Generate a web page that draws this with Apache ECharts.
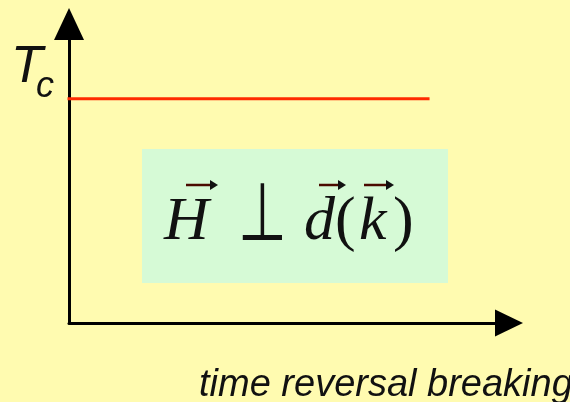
<!DOCTYPE html>
<html>
<head>
<meta charset="utf-8">
<script src="https://cdn.jsdelivr.net/npm/echarts@6/dist/echarts.min.js"></script>
<style>
  html, body { margin: 0; padding: 0; background: #FFFBB0; }
  #chart { width: 570px; height: 402px; }
</style>
</head>
<body>
<div id="chart"></div>
<script>
// Phase diagram sketch: critical temperature Tc versus time reversal breaking
const xRange = [0, 1];
const yRange = [0, 1];
const tcLevel = 0.75;              // Tc stays flat
const breakingValues = [0, 0.816]; // extent of the Tc line along the x axis
const xAxisTitle = 'time reversal breaking';
const tcLabel = ['T', 'c'];

const chart = echarts.init(document.getElementById('chart'), null, { renderer: 'canvas' });

const serif = "'Liberation Serif', 'DejaVu Serif', serif";
const sans = "'Liberation Sans', Arial, sans-serif";
const ink = '#111';

// small vector arrow drawn above a letter
function vecArrow(x1, x2, y) {
  return {
    type: 'group', z: 10,
    children: [
      { type: 'line', z: 10, shape: { x1: x1, y1: y, x2: x2 - 2, y2: y },
        style: { stroke: '#4a0a00', lineWidth: 2.5 } },
      { type: 'polygon', z: 10, shape: { points: [[x2 + 2, y], [x2 - 6, y - 5], [x2 - 6, y + 5]] },
        style: { fill: '#111' } }
    ]
  };
}

function formulaText(str, x, italic, font, size) {
  return {
    type: 'text', x: x, y: 254, z: 10,
    style: {
      text: str, fill: ink, fontSize: size || 62, fontFamily: font || serif,
      fontStyle: italic ? 'italic' : 'normal',
      textAlign: 'left', textVerticalAlign: 'bottom'
    }
  };
}

// the perpendicular sign, stretched upward from its baseline to letter height
const perpSign = formulaText('\u22A5', 238, false, "'DejaVu Sans', sans-serif", 56);
perpSign.scaleY = 1.45;
perpSign.originY = -13;

const option = {
  backgroundColor: '#FFFBB0',
  animation: false,
  grid: { left: 69, right: 61, top: 24, bottom: 79 },
  xAxis: {
    type: 'value', min: xRange[0], max: xRange[1],
    axisLine: { show: true, lineStyle: { color: '#000', width: 3 },
      symbol: ['none', 'triangle'], symbolSize: [27, 28] },
    axisTick: { show: false }, axisLabel: { show: false }, splitLine: { show: false }
  },
  yAxis: {
    type: 'value', min: yRange[0], max: yRange[1],
    axisLine: { show: true, lineStyle: { color: '#000', width: 3 },
      symbol: ['none', 'triangle'], symbolSize: [30, 32] },
    axisTick: { show: false }, axisLabel: { show: false }, splitLine: { show: false }
  },
  series: [{
    type: 'line',
    data: breakingValues.map(function (x) { return [x, tcLevel]; }),
    symbol: 'none',
    lineStyle: { color: '#FF2A00', width: 3, cap: 'square' },
    z: 5
  }],
  graphic: [
    { type: 'rect', shape: { x: 142, y: 149, width: 306, height: 134 },
      style: { fill: '#D6FAD6' }, z: 0 },
    formulaText('H', 164, true),
    perpSign,
    formulaText('d', 304, true),
    formulaText('(', 335, false),
    formulaText('k', 359, true),
    formulaText(')', 393, false),
    vecArrow(186, 216, 185),
    vecArrow(319, 344, 185),
    vecArrow(364, 392, 185),
    { type: 'text', x: 11, y: 94, z: 10,
      style: { text: tcLabel[0], fill: ink, fontSize: 52, fontStyle: 'italic', fontFamily: sans,
        textAlign: 'left', textVerticalAlign: 'bottom' } },
    { type: 'text', x: 36, y: 105, z: 10,
      style: { text: tcLabel[1], fill: ink, fontSize: 36, fontStyle: 'italic', fontFamily: sans,
        textAlign: 'left', textVerticalAlign: 'bottom' } },
    { type: 'text', x: 199, y: 404, z: 10,
      style: { text: xAxisTitle, fill: ink, fontSize: 38, fontStyle: 'italic', fontFamily: sans,
        textAlign: 'left', textVerticalAlign: 'bottom' } }
  ]
};

chart.setOption(option);
</script>
</body>
</html>
